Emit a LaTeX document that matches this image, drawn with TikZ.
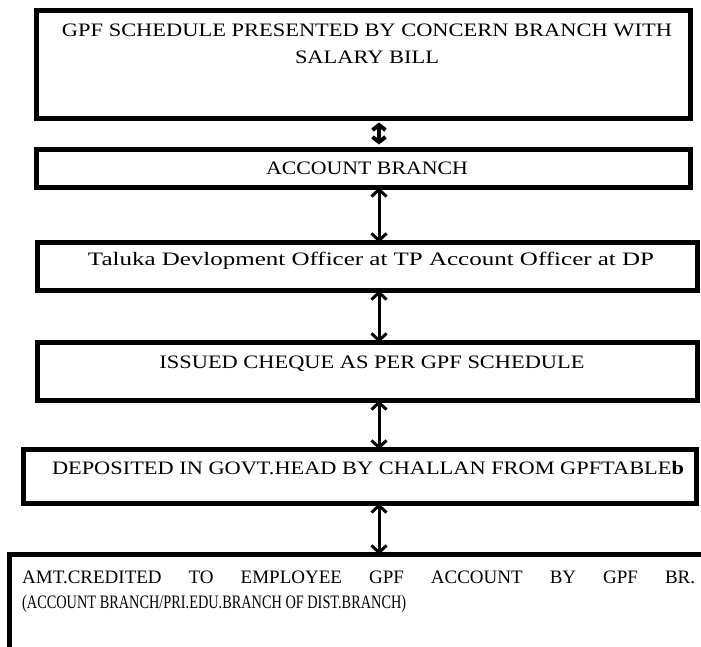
\documentclass[tikz,border=0pt]{standalone}
\usepackage{fontspec}
\setmainfont{Liberation Serif}
\usetikzlibrary{arrows.meta}
\newcommand{\fitw}[2]{\resizebox{#1}{\height}{#2}}
\tikzset{
  box/.style={draw, line width=5pt, inner sep=0pt, outer sep=0pt},
  lbl/.style={inner sep=0pt, align=center, font=\fontsize{19}{27}\selectfont},
  link/.style={line width=3pt,
    {Straight Barb[length=7pt,width=15pt]}-{Straight Barb[length=7pt,width=15pt]}},
  heavylink/.style={line width=4pt,
    {Straight Barb[length=5pt,width=13pt]}-{Straight Barb[length=5pt,width=13pt]}},
}
\begin{document}
\begin{tikzpicture}[x=1pt,y=-1pt]
  \useasboundingbox (0,0) rectangle (701,647);
  \coordinate (ax) at (379,0);

  % flow boxes
  \node[box, minimum width=654pt, minimum height=108pt] (b1) at (363.5,64.5) {};
  \node[box, minimum width=654pt, minimum height=38pt]  (b2) at (363.5,168.5) {};
  \node[box, minimum width=660pt, minimum height=48pt]  (b3) at (367.5,266.5) {};
  \node[box, minimum width=660pt, minimum height=58pt]  (b4) at (367.5,371.5) {};
  \node[box, minimum width=673pt, minimum height=54pt]  (b5) at (360,476.5) {};
  \begin{scope}
    \clip (0,0) rectangle (701,647);
    \node[box, minimum width=708pt, minimum height=123pt] (b6) at (363.5,616) {};
  \end{scope}

  % box texts
  \node[lbl] (t1) at (367,44)
    {\fitw{610pt}{GPF SCHEDULE PRESENTED BY CONCERN BRANCH WITH}\\
     \fitw{144pt}{SALARY BILL}};
  \node[lbl] (t2) at (367,168) {\fitw{202pt}{ACCOUNT BRANCH}};
  \node[lbl] (t3) at (371,261)
    {\fitw{566pt}{Taluka Devlopment Officer at TP Account Officer at DP}};
  \node[lbl] (t4) at (372,364) {\fitw{425pt}{ISSUED CHEQUE AS PER GPF SCHEDULE}};
  \node[lbl] (t5) at (368,468)
    {\fitw{632pt}{DEPOSITED IN GOVT.HEAD BY CHALLAN FROM GPFTABLE\textbf{b}}};
  \node[lbl, anchor=west] (t6a) at (22,577)
    {\makebox[673pt][s]{AMT.CREDITED TO EMPLOYEE GPF ACCOUNT BY GPF BR.}};
  \node[lbl, anchor=west] (t6b) at (22,604)
    {\fitw{384pt}{(ACCOUNT BRANCH/PRI.EDU.BRANCH OF DIST.BRANCH)}};

  % connectors
  \draw[heavylink, shorten <=4pt, shorten >=5pt] (b1.south -| ax) -- (b2.north -| ax);
  \draw[link] (b2.south -| ax) -- (b3.north -| ax);
  \draw[link] (b3.south -| ax) -- (b4.north -| ax);
  \draw[link] (b4.south -| ax) -- (b5.north -| ax);
  \draw[link] (b5.south -| ax) -- (b6.north -| ax);
\end{tikzpicture}
\end{document}
